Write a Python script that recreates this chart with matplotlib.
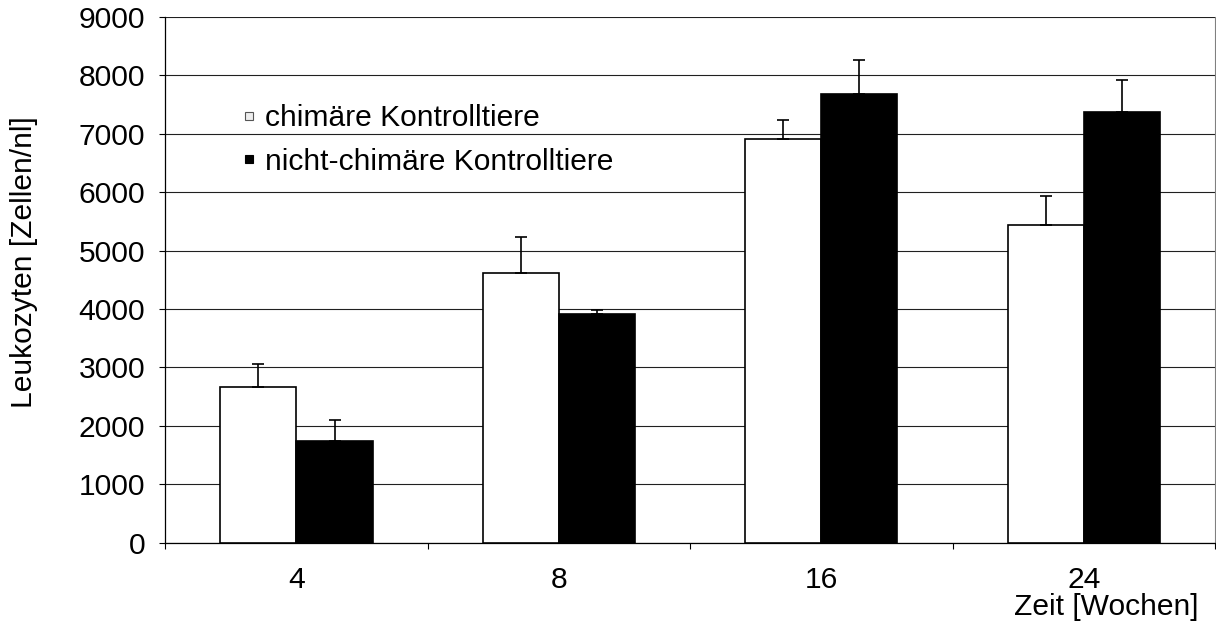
import numpy as np
import matplotlib
matplotlib.use("Agg")
import matplotlib.pyplot as plt
from matplotlib.lines import Line2D

plt.rcParams['font.family'] = ['Liberation Sans', 'DejaVu Sans']

weeks = ['4', '8', '16', '24']
chim = [2670, 4620, 6910, 5440]
chim_err = [390, 620, 330, 500]
nicht = [1740, 3910, 7680, 7370]
nicht_err = [360, 80, 580, 550]

fs = 21.6
fig = plt.figure(figsize=(12.16, 6.23), dpi=100)
ax = fig.add_axes([0.1359, 0.1289, 0.8633, 0.8438])

x = np.arange(len(weeks)) + 0.5
w = 0.29

ax.bar(x - w / 2, chim, w, color='white', edgecolor='black', linewidth=1.2, zorder=3)
ax.bar(x + w / 2, nicht, w, color='black', edgecolor='black', linewidth=1.2, zorder=3)
ax.errorbar(x - w / 2, chim, yerr=[np.zeros(4), chim_err], fmt='none', ecolor='black',
            elinewidth=1.2, capsize=4.3, capthick=1.2, zorder=4)
ax.errorbar(x + w / 2, nicht, yerr=[np.zeros(4), nicht_err], fmt='none', ecolor='black',
            elinewidth=1.2, capsize=4.3, capthick=1.2, zorder=4)

ax.set_xlim(0, 4)
ax.set_ylim(0, 9000)
ax.set_yticks(np.arange(0, 9001, 1000))
ax.yaxis.grid(True, color='#202020', linewidth=0.8, zorder=0)
ax.set_axisbelow(True)

# category boundaries get the ticks, labels sit in the middle
ax.set_xticks(np.arange(0, 5))
ax.set_xticklabels([])
ax.set_xticks(x, minor=True)
ax.set_xticklabels(weeks, minor=True)
ax.tick_params(axis='x', which='major', direction='out', length=4, width=0.8)
ax.tick_params(axis='x', which='minor', length=0, pad=17, labelsize=fs)
ax.tick_params(axis='y', direction='out', length=4, width=0.8, pad=10.5, labelsize=fs)

ax.spines['top'].set_visible(False)
ax.spines['right'].set_color('#808080')
ax.spines['left'].set_linewidth(0.9)
ax.spines['bottom'].set_linewidth(0.9)

fig.text(24 / 1216, 1 - 262 / 623, 'Leukozyten [Zellen/nl]', rotation=90,
         ha='center', va='center', fontsize=fs)
fig.text(1198 / 1216, 1 - 607 / 623, 'Zeit [Wochen]', ha='right', va='center', fontsize=fs)

handles = [Line2D([], [], linestyle='none', marker='s', markersize=5.6,
                  markerfacecolor='#eeeeee', markeredgecolor='#555555', markeredgewidth=0.8),
           Line2D([], [], linestyle='none', marker='s', markersize=5.6,
                  markerfacecolor='black', markeredgecolor='black', markeredgewidth=0.8)]
fig.legend(handles, ['chimäre Kontrolltiere', 'nicht-chimäre Kontrolltiere'],
           loc='upper left', bbox_to_anchor=(242.5 / 1216, 1 - 104 / 623), frameon=False,
           fontsize=fs, handlelength=0.4, handletextpad=0.35,
           labelspacing=0.52, borderpad=0, borderaxespad=0)

fig.savefig('out.png', dpi=100)
